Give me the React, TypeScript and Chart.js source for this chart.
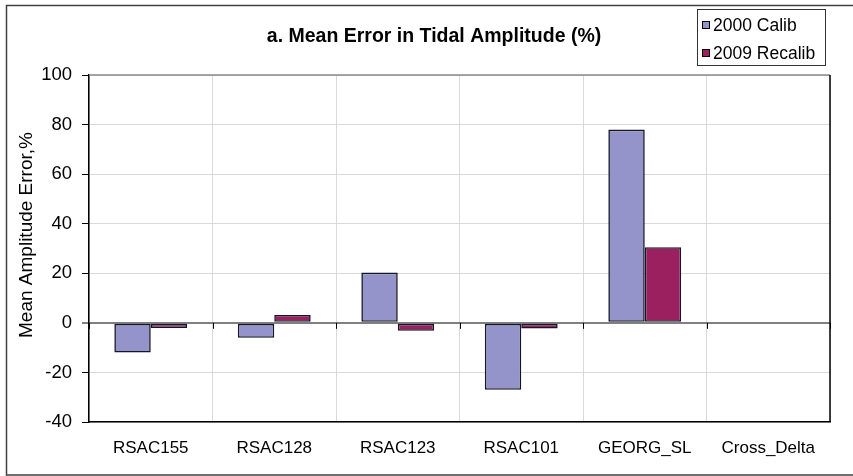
import React, { useEffect, useRef } from 'react';
import { Chart, registerables } from 'chart.js';

Chart.register(...registerables);

const categories = ['RSAC155', 'RSAC128', 'RSAC123', 'RSAC101', 'GEORG_SL', 'Cross_Delta'];
const calib2000: (number | null)[] = [-12, -6, 20.3, -27, 78, null];
const recalib2009: (number | null)[] = [-2.1, 3.2, -3.2, -2.3, 30.5, null];
const seriesNames = ['2000 Calib', '2009 Recalib'];
const seriesColors = ['#9494CA', '#9A2060'];
const chartTitle = 'a. Mean Error in Tidal Amplitude (%)';
const yAxisTitle = 'Mean Amplitude Error,%';
const yMin = -40;
const yMax = 100;
const yStep = 20;

const FONT = '"Liberation Sans", Arial, sans-serif';

const decorPlugin = {
  id: 'decor',
  afterDraw(chart: any) {
    const ctx = chart.ctx as CanvasRenderingContext2D;
    const area = chart.chartArea;
    const xs = chart.scales.x;
    const ys = chart.scales.y;
    ctx.save();

    // plot area top (gray) and right (black) borders
    ctx.lineWidth = 1.5;
    ctx.strokeStyle = '#8a8a8a';
    ctx.beginPath();
    ctx.moveTo(area.left, area.top);
    ctx.lineTo(area.right, area.top);
    ctx.stroke();
    ctx.strokeStyle = '#000';
    ctx.beginPath();
    ctx.moveTo(area.right, area.top);
    ctx.lineTo(area.right, area.bottom);
    ctx.stroke();

    // small tick marks on the zero axis at category boundaries
    const y0 = ys.getPixelForValue(0);
    ctx.lineWidth = 1;
    ctx.strokeStyle = '#000';
    for (let i = 0; i <= categories.length; i++) {
      const x = Math.round(xs.getPixelForValue(i - 0.5)) + 0.5;
      ctx.beginPath();
      ctx.moveTo(x, y0);
      ctx.lineTo(x, y0 + 6);
      ctx.stroke();
    }

    // outer frame
    ctx.strokeStyle = '#404040';
    ctx.lineWidth = 1.5;
    ctx.strokeRect(6.5, 5.5, 900, 469.5);

    // title
    ctx.fillStyle = '#000';
    ctx.font = `bold 19.5px ${FONT}`;
    ctx.textAlign = 'center';
    ctx.textBaseline = 'alphabetic';
    ctx.fillText(chartTitle, 434, 42);

    // y axis title
    ctx.save();
    ctx.translate(32, 235);
    ctx.rotate(-Math.PI / 2);
    ctx.font = `19px ${FONT}`;
    ctx.textAlign = 'center';
    ctx.textBaseline = 'alphabetic';
    ctx.fillText(yAxisTitle, 0, 0);
    ctx.restore();

    // legend
    ctx.fillStyle = '#fff';
    ctx.fillRect(697, 9, 129, 56);
    ctx.strokeStyle = '#333';
    ctx.lineWidth = 1;
    ctx.strokeRect(697.5, 9.5, 128, 56);
    ctx.font = `17.5px ${FONT}`;
    ctx.textAlign = 'left';
    ctx.textBaseline = 'middle';
    seriesNames.forEach((name, i) => {
      const cy = 25 + i * 28;
      ctx.fillStyle = seriesColors[i];
      ctx.fillRect(702, cy - 3.5, 7, 7);
      ctx.strokeStyle = '#000';
      ctx.strokeRect(702.5, cy - 3.5, 7, 7);
      ctx.fillStyle = '#000';
      ctx.fillText(name, 713, cy + 1);
    });

    ctx.restore();
  },
};

export default function App() {
  const canvasRef = useRef<HTMLCanvasElement | null>(null);

  useEffect(() => {
    if (!canvasRef.current) return;
    const chart = new Chart(canvasRef.current, {
      type: 'bar',
      data: {
        labels: categories,
        datasets: [
          {
            label: seriesNames[0],
            data: calib2000,
            backgroundColor: seriesColors[0],
            borderColor: '#16162a',
            borderWidth: 1.6,
            borderSkipped: false,
            categoryPercentage: 0.59,
            barPercentage: 1,
          },
          {
            label: seriesNames[1],
            data: recalib2009,
            backgroundColor: seriesColors[1],
            borderColor: '#16162a',
            borderWidth: 1.6,
            borderSkipped: false,
            categoryPercentage: 0.59,
            barPercentage: 1,
          },
        ],
      },
      options: {
        responsive: false,
        animation: false,
        devicePixelRatio: 1,
        layout: { padding: { left: 0, top: 75, right: 23, bottom: 0 } },
        plugins: {
          legend: { display: false },
          title: { display: false },
          tooltip: { enabled: false },
        },
        scales: {
          x: {
            type: 'category',
            offset: true,
            grid: {
              offset: true,
              color: '#d9d9d9',
              lineWidth: 1,
              drawTicks: false,
            },
            border: { display: true, color: '#000', width: 1.5 },
            ticks: {
              color: '#000',
              font: { family: FONT, size: 17 },
              padding: 16,
              maxRotation: 0,
              autoSkip: false,
            },
            afterFit(scale: any) {
              scale.height = 54;
            },
          },
          y: {
            type: 'linear',
            min: yMin,
            max: yMax,
            ticks: {
              stepSize: yStep,
              color: '#000',
              font: { family: FONT, size: 18.5 },
              padding: 10,
            },
            grid: {
              color: (c: any) => (c.tick && c.tick.value === 0 ? '#808080' : '#d9d9d9'),
              lineWidth: (c: any) => (c.tick && c.tick.value === 0 ? 2 : 1),
              tickColor: '#000',
              tickLength: 7,
              tickWidth: 1,
            },
            border: { display: true, color: '#000', width: 1.5 },
            afterFit(scale: any) {
              scale.width = 89;
            },
          },
        },
      },
      plugins: [decorPlugin],
    } as any);
    return () => chart.destroy();
  }, []);

  return (
    <div style={{ position: 'absolute', left: 0, top: 0, width: 853, height: 476, background: '#fff' }}>
      <canvas ref={canvasRef} width={853} height={476} style={{ display: 'block' }} />
    </div>
  );
}
